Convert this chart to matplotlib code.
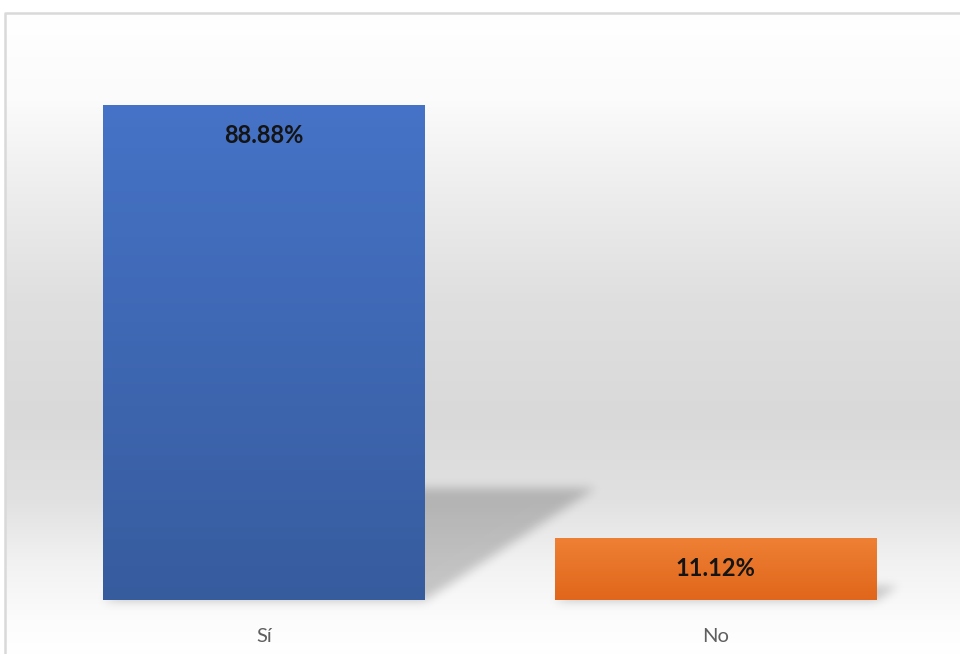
import matplotlib
matplotlib.use("Agg")
import matplotlib.pyplot as plt
import numpy as np
from matplotlib.colors import LinearSegmentedColormap

plt.rcParams['font.family'] = ['Lato', 'DejaVu Sans']

# data
categories = ["Sí", "No"]
values = [88.88, 11.12]
value_labels = ["88.88%", "11.12%"]

# styling
top_colors = ["#4673c7", "#ee8034"]
bottom_colors = ["#375c9e", "#e0661b"]
W, H = 960, 654

fig = plt.figure(figsize=(W / 100, H / 100), dpi=100)

# background layer in pixel coordinates (origin top-left)
bg = fig.add_axes([0, 0, 1, 1], zorder=-1)
bg.set_xlim(0, W)
bg.set_ylim(H, 0)
bg.axis("off")

# vertical grey gradient of the chart area
stops_y = [13, 100, 200, 300, 420, 500, 560, 620, 654]
stops_v = [255, 251, 236, 223, 217, 225, 241, 252, 255]
ys = np.arange(H)
col = np.interp(ys, stops_y, stops_v) / 255.0
col[ys < 13] = 1.0
grad = np.repeat(col[:, None], W, axis=1)
grad[:, :5] = 1.0
rgb = np.dstack([grad, grad, grad])
bg.imshow(rgb, extent=[0, W, H, 0], aspect="auto", interpolation="bilinear")

# chart border
bg.plot([5, 5, W], [H, 13, 13], color="#d9d9d9", lw=1.8, solid_capstyle="butt")

# main axes
ax = fig.add_axes([38 / W, 54 / H, 903 / W, 557 / H])
ax.set_xlim(-0.5, 1.5)
ax.set_ylim(0, 100)
ax.patch.set_alpha(0)
for s in ax.spines.values():
    s.set_visible(False)
ax.set_yticks([])
ax.set_xticks(range(len(categories)))
ax.set_xticklabels(categories, fontsize=14.5, color="#5f5f5f")
ax.tick_params(axis="x", length=0, pad=20)

bars = ax.bar(range(len(categories)), values, width=0.711, color="none")

# gradient fill for each bar
for bar, c_top, c_bot in zip(bars, top_colors, bottom_colors):
    x0, y0 = bar.get_x(), bar.get_y()
    w, h = bar.get_width(), bar.get_height()
    cmap = LinearSegmentedColormap.from_list("g", [c_bot, c_top])
    g = np.linspace(0, 1, 256)[:, None]
    im = ax.imshow(g, cmap=cmap, origin="lower", aspect="auto",
                   extent=[x0, x0 + w, y0, y0 + h], zorder=2)
    im.set_clip_path(bar)
ax.set_xlim(-0.5, 1.5)
ax.set_ylim(0, 100)

# value labels inside the top of each bar
for i, (v, lab) in enumerate(zip(values, value_labels)):
    ax.annotate(lab, (i, v), xytext=(0, -22), textcoords="offset points",
                ha="center", va="center", fontsize=17, fontweight="bold",
                color="#141414", zorder=3)

# perspective shadow cast by the bars
fig.canvas.draw()
shadow = np.zeros((H, W))
yy, xx = np.mgrid[0:H, 0:W]
for bar in bars:
    x0, y0 = bar.get_x(), bar.get_y()
    (px0, pb), (px1, pt) = ax.transData.transform([(x0, y0), (x0 + bar.get_width(), y0 + bar.get_height())])
    base = H - pb
    top = H - pt
    sh = 0.227 * (base - top)
    dx = 1.52 * sh
    t = (base - yy) / max(sh, 1)
    inside = (t >= 0) & (t <= 1) & (xx >= px0 + t * dx) & (xx <= px1 + t * dx)
    shadow[inside] = 1.0

def blur(a, sigma):
    r = int(3 * sigma)
    k = np.exp(-np.arange(-r, r + 1) ** 2 / (2 * sigma ** 2))
    k /= k.sum()
    a = np.apply_along_axis(lambda m: np.convolve(m, k, mode="same"), 0, a)
    a = np.apply_along_axis(lambda m: np.convolve(m, k, mode="same"), 1, a)
    return a

shadow = blur(shadow, 5)
sh_img = np.zeros((H, W, 4))
sh_img[..., 3] = shadow * 0.2
bg.imshow(sh_img, extent=[0, W, H, 0], aspect="auto", interpolation="bilinear")
bg.set_xlim(0, W)
bg.set_ylim(H, 0)

fig.savefig("out.png", dpi=100)
